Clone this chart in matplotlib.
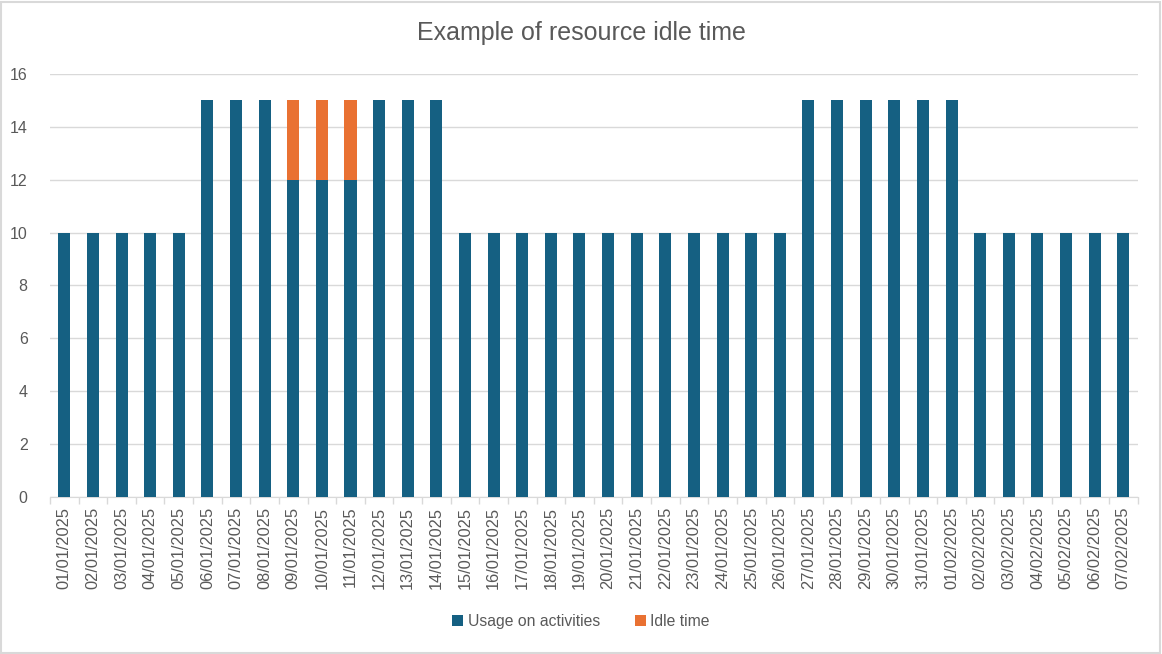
import numpy as np
import matplotlib.pyplot as plt
from matplotlib.patches import Rectangle

# data
dates = ['01/01/2025', '02/01/2025', '03/01/2025', '04/01/2025', '05/01/2025',
         '06/01/2025', '07/01/2025', '08/01/2025', '09/01/2025', '10/01/2025',
         '11/01/2025', '12/01/2025', '13/01/2025', '14/01/2025', '15/01/2025',
         '16/01/2025', '17/01/2025', '18/01/2025', '19/01/2025', '20/01/2025',
         '21/01/2025', '22/01/2025', '23/01/2025', '24/01/2025', '25/01/2025',
         '26/01/2025', '27/01/2025', '28/01/2025', '29/01/2025', '30/01/2025',
         '31/01/2025', '01/02/2025', '02/02/2025', '03/02/2025', '04/02/2025',
         '05/02/2025', '06/02/2025', '07/02/2025']
usage = [10, 10, 10, 10, 10, 15, 15, 15, 12, 12, 12, 15, 15, 15,
         10, 10, 10, 10, 10, 10, 10, 10, 10, 10, 10, 10,
         15, 15, 15, 15, 15, 15, 10, 10, 10, 10, 10, 10]
idle = [0, 0, 0, 0, 0, 0, 0, 0, 3, 3, 3, 0, 0, 0,
        0, 0, 0, 0, 0, 0, 0, 0, 0, 0, 0, 0,
        0, 0, 0, 0, 0, 0, 0, 0, 0, 0, 0, 0]

blue = '#156082'
orange = '#E97132'
txt = '#595959'
plt.rcParams['font.family'] = ['Liberation Sans', 'DejaVu Sans']

fig = plt.figure(figsize=(11.62, 6.54), dpi=100)
ax = fig.add_axes([0.043, 0.240, 0.936, 0.647])

x = np.arange(len(dates))
ax.bar(x, usage, width=0.42, color=blue, label='Usage on activities', zorder=3)
ax.bar(x, idle, width=0.42, bottom=usage, color=orange, label='Idle time', zorder=3)

ax.set_xlim(-0.5, len(dates) - 0.5)
ax.set_ylim(0, 16)
ax.set_yticks(range(0, 17, 2))
ax.grid(axis='y', color='#D9D9D9', linewidth=1, zorder=0)

ax.set_xticks(x)
ax.set_xticklabels(dates, rotation=90, fontsize=11.8, color=txt)
ax.set_xticks(np.arange(-0.5, len(dates)), minor=True)
ax.tick_params(axis='x', which='major', length=0, pad=7)
ax.tick_params(axis='x', which='minor', length=5, color='#D9D9D9', width=1)
ax.tick_params(axis='y', length=0, labelsize=11.5, labelcolor=txt, pad=16)

for s in ['top', 'right', 'left']:
    ax.spines[s].set_visible(False)
ax.spines['bottom'].set_color('#D9D9D9')

fig.text(0.5, 0.949, 'Example of resource idle time', ha='center', va='center',
         fontsize=18, color=txt)

fig.legend(loc='center', bbox_to_anchor=(0.5, 0.05), ncol=2, frameon=False,
           fontsize=11.3, labelcolor=txt, handlelength=0.7, handleheight=0.7,
           handletextpad=0.3, columnspacing=2.2)

fig.patches.append(Rectangle((0.001, 0.002), 0.997, 0.995, transform=fig.transFigure,
                             fill=False, edgecolor='#D9D9D9', linewidth=1.5))

fig.savefig('out.png', dpi=100)
